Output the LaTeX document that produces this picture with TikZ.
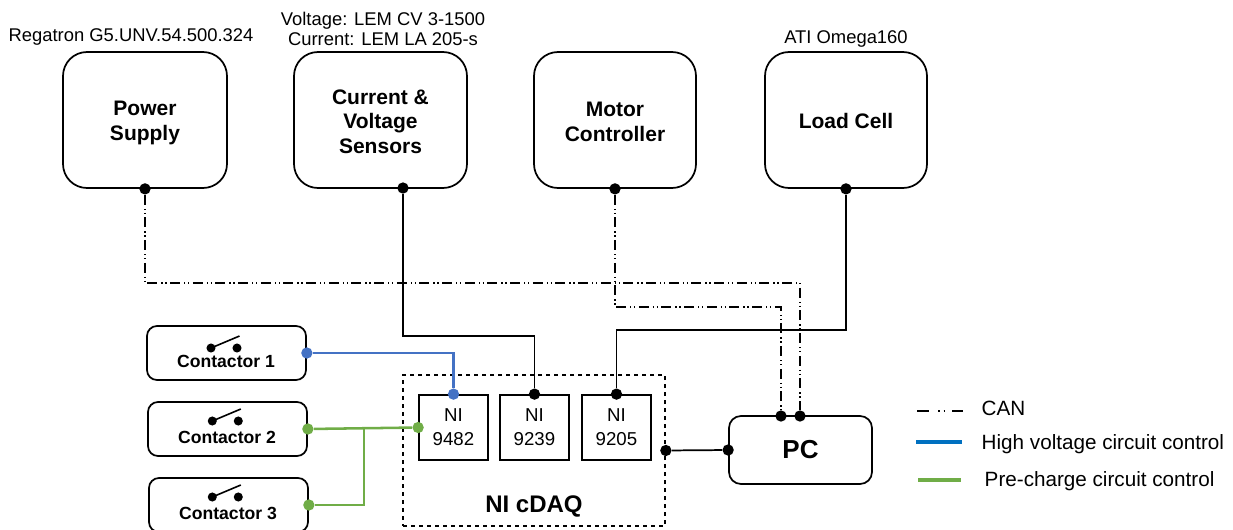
\documentclass[tikz,border=0pt]{standalone}
\usepackage{fontspec}
\setmainfont{Liberation Sans}
\usetikzlibrary{positioning}
\definecolor{hvblue}{HTML}{4472C4}
\definecolor{hvlegend}{HTML}{0070C0}
\definecolor{pregreen}{HTML}{70AD47}
\tikzset{
	unitbox/.style={
		rectangle, 
		rounded corners=18pt, 
		draw=black, line width=1.3pt,
		minimum width=123pt, 
		minimum height=102pt, 
		align=center,
		font=\fontsize{15.75}{18.75}\selectfont\bfseries},
	relaybox/.style={
		rectangle, 
		rounded corners=7.5pt, 
		draw=black, line width=1.3pt,
		minimum width=119.25pt, 
		minimum height=40.5pt},
	relaytext/.style={
		font=\fontsize{13.2}{16}\selectfont\bfseries},
	modulebox/.style={
		rectangle, 
		draw=black, line width=1.3pt,
		minimum width=51.75pt, 
		minimum height=48.75pt, 
		align=center,
		font=\fontsize{14}{18}\selectfont},
	toplabel/.style={
		align=center,
		font=\fontsize{13.8}{15}\selectfont},
	legendtext/.style={
		anchor=west,
		font=\fontsize{15.5}{18}\selectfont},
	port/.style={circle, fill=black, inner sep=0pt, minimum size=8.5pt},
	wire/.style={draw=black, line width=1.3pt},
	can/.style={draw=black, line width=1.3pt,
		dash pattern=on 7.5pt off 3pt on 1pt off 2pt on 1pt off 2.5pt},
	hvwire/.style={draw=hvblue, line width=2.2pt},
	prewire/.style={draw=pregreen, line width=1.9pt},
	switchicon/.pic={
		\fill (-13,0) circle (3.4pt);
		\fill (13,0) circle (3.4pt);
		\draw[line width=1.2pt] (-13,0) -- (15.5,-12);
	},
}
\begin{document}
\begin{tikzpicture}
		[x=0.75pt, y=-0.75pt]
		\useasboundingbox (0,0) rectangle (1233,529);
		% top row
		\node[unitbox] (supply) at (145,120) {};
		\node[unitbox, minimum width=129.75pt] (sensors) at (380.5,120) {};
		\node[unitbox, minimum width=121.5pt] (motor) at (615,120) {};
		\node[unitbox, minimum width=121.5pt] (load) at (846,120) {};
		\node[font=\fontsize{15.75}{18.75}\selectfont\bfseries, align=center] (supplyname) at (145,122.5) {Power\\Supply};
		\node[font=\fontsize{15.75}{18.5}\selectfont\bfseries, align=center] (sensorname) at (380.5,121.5) {Current \&\\Voltage\\Sensors};
		\node[font=\fontsize{15.75}{18.75}\selectfont\bfseries, align=center] (motorname) at (615,122) {Motor\\Controller};
		\node[font=\fontsize{15.75}{18.75}\selectfont\bfseries, align=center] (loadname) at (846,121) {Load Cell};
		\node[toplabel] (supplytext) at (131,37) {Regatron G5.UNV.54.500.324};
		\node[toplabel] (sensortext) at (383,29) {Voltage: LEM CV 3-1500\\Current: LEM LA 205-s};
		\node[toplabel] (loadtext) at (846,39) {ATI Omega160};
		% contactors
		\node[relaybox] (con1) at (226.5,353) {};
		\node[relaybox] (con2) at (227.5,429) {};
		\node[relaybox] (con3) at (228.5,505) {};
		\node[relaytext] (con1text) at (226,361) {Contactor 1};
		\node[relaytext] (con2text) at (227,437) {Contactor 2};
		\node[relaytext] (con3text) at (228,513) {Contactor 3};
		\pic at (224,348) {switchicon};
		\pic at (225.3,421) {switchicon};
		\pic at (225.3,497) {switchicon};
		% daq and pc
		\node[rectangle, draw=black, line width=1.3pt, dashed, minimum width=196.5pt, minimum height=113.25pt] (daq) at (534,450.5) {};
		\node[font=\fontsize{18}{22}\selectfont\bfseries] (daqtext) at (534,506) {NI cDAQ};
		\node[modulebox] (ni1) at (453.5,427.5) {NI\\9482};
		\node[modulebox] (ni2) at (534.5,427.5) {NI\\9239};
		\node[modulebox] (ni3) at (616.5,427.5) {NI\\9205};
		\node[unitbox, rounded corners=9pt, minimum width=107.25pt, minimum height=51pt, font=\fontsize{19.5}{22}\selectfont\bfseries] (pc) at (800.5,450) {PC};
		% ports
		\node[port] (psupply) at (supply.south) {};
		\node[port] (psensors) at (403,188) {};
		\node[port] (pmotor) at (motor.south) {};
		\node[port] (pload) at (load.south) {};
		\node[port, fill=hvblue] (pcon1) at (con1.east) {};
		\node[port, fill=pregreen] (pcon2) at (con2.east) {};
		\node[port, fill=pregreen] (pcon3) at (con3.east) {};
		\node[port, fill=hvblue] (pni1) at (ni1.north) {};
		\node[port, fill=pregreen] (pni1b) at (ni1.west) {};
		\node[port] (pni2) at (ni2.north) {};
		\node[port] (pni3) at (ni3.north) {};
		\node[port] (pdaq) at (daq.east) {};
		\node[port] (ppcleft) at (pc.west) {};
		\node[port] (ppca) at (781,416) {};
		\node[port] (ppcb) at (800,416) {};
		% connectors
		\coordinate (canbusa) at (0,283);
		\coordinate (canbusb) at (0,307);
		\coordinate (sensline) at (0,336);
		\coordinate (loadline) at (0,330);
		\coordinate (prejoin) at (364,428);
		\draw[can] (psupply) -- (psupply |- canbusa) -- (ppcb |- canbusa) -- (ppcb);
		\draw[can] (pmotor) -- (pmotor |- canbusb) -- (ppca |- canbusb) -- (ppca);
		\draw[wire] (psensors) -- (psensors |- sensline) -- (pni2 |- sensline) -- (pni2);
		\draw[wire] (pload) -- (pload |- loadline) -- (pni3 |- loadline) -- (pni3);
		\draw[wire] (pdaq) -- (ppcleft);
		\draw[hvwire] (pcon1) -- (pni1 |- pcon1) -- (pni1);
		\draw[prewire] (pcon2) -- (pni1b);
		\draw[prewire] (pcon3) -- (prejoin |- pcon3) -- (prejoin);
		% legend
		\coordinate (canstart) at (917,411);
		\coordinate (canend) at (963,411);
		\coordinate (hvstart) at (916,442);
		\coordinate (hvend) at (962,442);
		\coordinate (prestart) at (918,480);
		\coordinate (preend) at (961,480);
		\draw[wire, dash pattern=on 9pt off 7pt on 1pt off 3pt on 1pt off 5.5pt] (canstart) -- (canend);
		\draw[draw=hvlegend, line width=2.6pt] (hvstart) -- (hvend);
		\draw[draw=pregreen, line width=2.6pt] (prestart) -- (preend);
		\node[legendtext] (cantext) at (977,408) {CAN};
		\node[legendtext] (hvtext) at (977,444) {High voltage circuit control};
		\node[legendtext] (pretext) at (980,481) {Pre-charge circuit control};
		\end{tikzpicture}
\end{document}
